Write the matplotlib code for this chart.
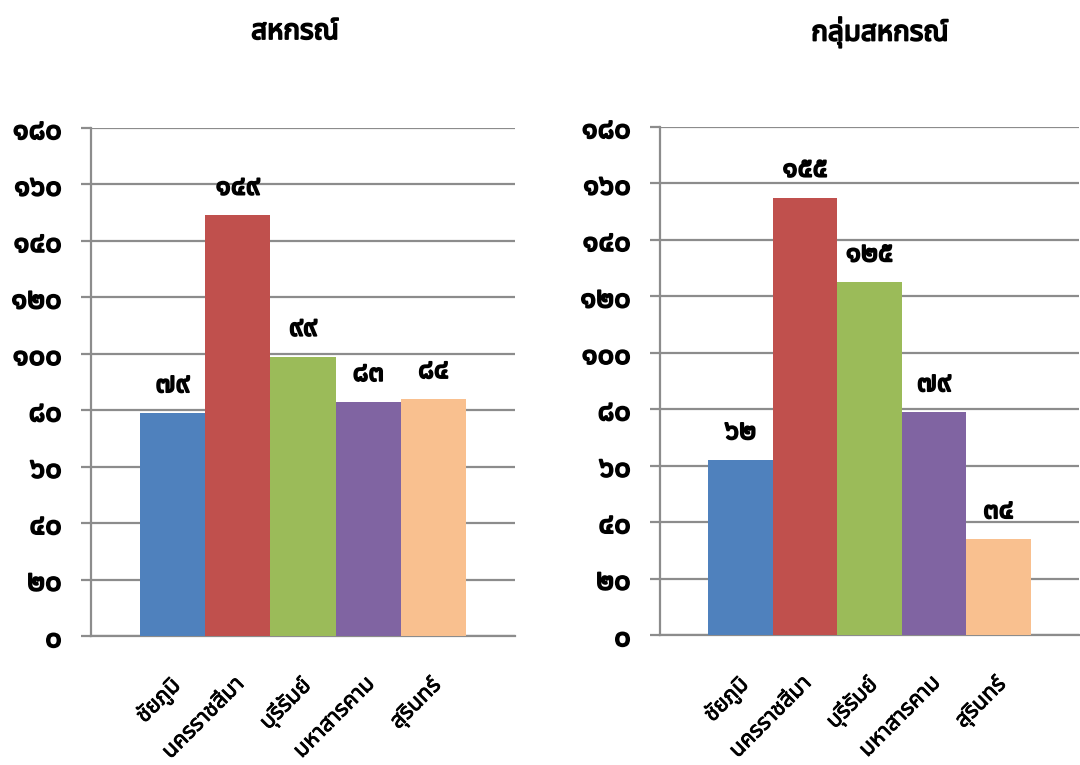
import matplotlib
matplotlib.use("Agg")
import matplotlib.pyplot as plt
from matplotlib import font_manager
import matplotlib.patheffects as pe
from fontTools.ttLib import TTFont

# ---- data ----
categories = ["ชัยภูมิ", "นครราชสีมา", "บุรีรัมย์", "มหาสารคาม", "สุรินทร์"]
coop_values = [79, 149, 99, 83, 84]
group_values = [62, 155, 125, 79, 34]
titles = ["สหกรณ์", "กลุ่มสหกรณ์"]
yticks = [0, 20, 40, 60, 80, 100, 120, 140, 160, 180]
colors = ["#4F81BD", "#C0504D", "#9BBB59", "#8064A2", "#F9C08F"]

THAI_DIGITS = "๐๑๒๓๔๕๖๗๘๙"
def thai_num(n):
    return "".join(THAI_DIGITS[int(c)] for c in str(n))

# ---- find a font with Thai glyphs ----
def find_thai_fonts():
    found = []
    for path in font_manager.findSystemFonts():
        try:
            f = TTFont(path, fontNumber=0, lazy=True)
            cmap = f.getBestCmap()
            if cmap and 0x0E2A in cmap and 0x0E51 in cmap:
                name = font_manager.FontProperties(fname=path).get_name()
                found.append(name)
        except Exception:
            pass
    return found

thai = find_thai_fonts()
families = []
for pref in ["Noto Sans Thai", "Noto Sans Thai UI", "Tahoma", "Leelawadee UI"]:
    if pref in thai:
        families.append(pref)
for n in thai:
    if n not in families:
        families.append(n)
families.append("DejaVu Sans")
plt.rcParams["font.family"] = families

bold = [pe.withStroke(linewidth=1.3, foreground="black")]
semi = [pe.withStroke(linewidth=0.6, foreground="black")]

fig = plt.figure(figsize=(10.8, 7.65), dpi=100)

axes_rects = [
    [91 / 1080, 1 - 636 / 765, (515 - 91) / 1080, (636 - 128) / 765],
    [660 / 1080, 1 - 635 / 765, (1079 - 660) / 1080, (635 - 127) / 765],
]
title_x = [295 / 1080, 880 / 1080]
grid_color = "#8C8C8C"

for k, vals in enumerate([coop_values, group_values]):
    ax = fig.add_axes(axes_rects[k])
    x = list(range(len(categories)))
    ax.bar(x, vals, width=1.0, color=colors, zorder=3, linewidth=0)
    ax.set_xlim(-1.25, 5.25)
    ax.set_ylim(0, 180)
    ax.set_yticks(yticks)
    ax.set_yticklabels([thai_num(v) for v in yticks], fontsize=21, fontweight="bold")
    for t in ax.get_yticklabels():
        t.set_path_effects(bold)
    ax.yaxis.grid(True, color=grid_color, linewidth=1.6, zorder=0)
    ax.set_axisbelow(True)
    for s in ["top", "right"]:
        ax.spines[s].set_visible(False)
    for s in ["left", "bottom"]:
        ax.spines[s].set_color(grid_color)
        ax.spines[s].set_linewidth(1.6)
    ax.tick_params(axis="y", length=7, width=1.6, color=grid_color, pad=14)
    ax.tick_params(axis="x", length=0)
    ax.set_xticks(x)
    ax.set_xticklabels([])
    for i, c in enumerate(categories):
        ax.annotate(c, xy=(i, 0), xycoords="data", xytext=(-3, -27),
                    textcoords="offset points", rotation=45,
                    rotation_mode="anchor", ha="right", va="top",
                    fontsize=16, annotation_clip=False, path_effects=semi)
        ax.annotate(thai_num(vals[i]), xy=(i, vals[i]), xycoords="data",
                    xytext=(0, 10), textcoords="offset points",
                    ha="center", va="bottom", fontsize=20, fontweight="bold",
                    path_effects=bold)
    fig.text(title_x[k], 1 - 32 / 765, titles[k], ha="center", va="center",
             fontsize=20, fontweight="bold", path_effects=bold)

fig.savefig("out.png", dpi=100)
